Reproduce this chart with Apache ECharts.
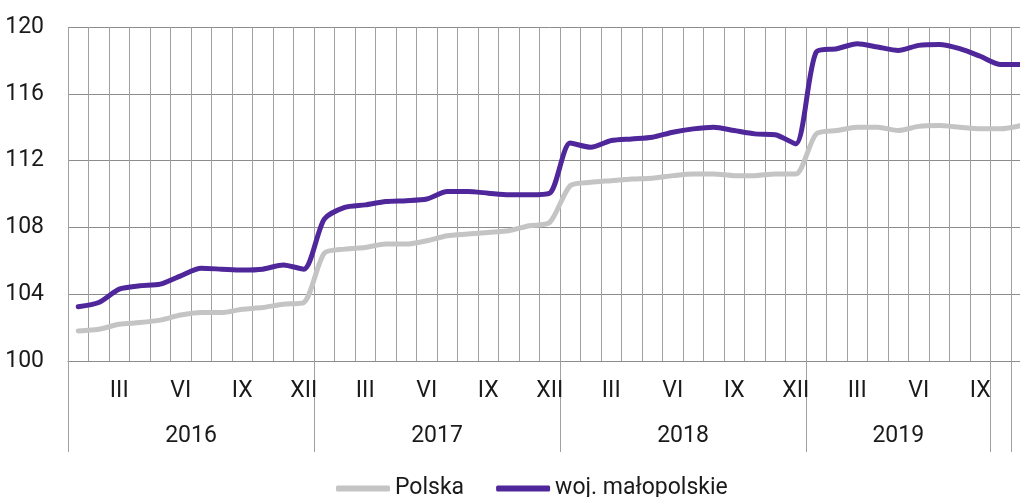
<!DOCTYPE html>
<html>
<head>
<meta charset="utf-8">
<script src="https://cdn.jsdelivr.net/npm/echarts@6/dist/echarts.min.js"></script>
<style>
  html, body { margin: 0; padding: 0; background: #fff; overflow: hidden; }
  /* wider than the window: the last month of the plot is cut off at the right edge */
  #chart { width: 1040px; height: 497px; }
</style>
</head>
<body>
<div id="chart"></div>
<script>
const romans = ['I', 'II', 'III', 'IV', 'V', 'VI', 'VII', 'VIII', 'IX', 'X', 'XI', 'XII'];
const years = ['2016', '2017', '2018', '2019'];
// month labels, Jan 2016 .. Nov 2019
const months = [
  ...romans, ...romans, ...romans,
  'I', 'II', 'III', 'IV', 'V', 'VI', 'VII', 'VIII', 'IX', 'X', 'XI'
];
// boundaries of the year groups on the bottom axis (category index)
const groupStarts = [0, 12, 24, 36, 45, 46];
// year label positions (centre of each group, in months)
const yearCenters = [6, 18, 30, 40.5];

const polska = [
  101.8, 101.9, 102.2, 102.3, 102.45, 102.75, 102.9, 102.9, 103.1, 103.2, 103.4, 103.5,
  106.45, 106.7, 106.8, 107.0, 107.0, 107.2, 107.5, 107.6, 107.7, 107.8, 108.1, 108.3,
  110.5, 110.7, 110.8, 110.9, 110.95, 111.1, 111.2, 111.2, 111.1, 111.1, 111.2, 111.2,
  113.6, 113.8, 114.0, 114.0, 113.8, 114.05, 114.1, 114.0, 113.9, 113.9, 114.1
];
const malopolskie = [
  103.25, 103.5, 104.3, 104.5, 104.6, 105.1, 105.55, 105.5, 105.45, 105.5, 105.75, 105.5,
  108.5, 109.2, 109.35, 109.55, 109.6, 109.7, 110.15, 110.15, 110.05, 109.95, 109.95, 110.05,
  113.05, 112.8, 113.2, 113.3, 113.4, 113.7, 113.9, 114.0, 113.8, 113.6, 113.55, 113.0,
  118.5, 118.7, 119.0, 118.8, 118.6, 118.9, 118.95, 118.7, 118.25, 117.75, 117.75
];

const FONT = 'Roboto, "Noto Sans", sans-serif';
const chart = echarts.init(document.getElementById('chart'), null, { renderer: 'canvas' });

chart.setOption({
  animation: false,
  textStyle: { fontFamily: FONT },
  legend: {
    left: 331,
    top: 472,
    itemWidth: 54,
    itemHeight: 6,
    itemGap: 32,
    icon: 'roundRect',
    textStyle: { fontSize: 23, color: '#1a1a1a', fontFamily: FONT },
    data: ['Polska', 'woj. małopolskie']
  },
  grid: { left: 68, top: 27, height: 334, width: 963.5, containLabel: false },
  xAxis: [
    {
      type: 'category',
      data: months,
      boundaryGap: true,
      axisLine: { show: true, lineStyle: { color: '#8c8c8c', width: 1 } },
      axisTick: { show: false },
      splitLine: { show: true, interval: 0, lineStyle: { color: '#a0a0a0', width: 1 } },
      axisLabel: {
        interval: (i) => i % 3 === 2,
        margin: 19,
        fontSize: 23,
        color: '#1a1a1a'
      }
    },
    {
      type: 'category',
      data: months,
      position: 'bottom',
      boundaryGap: true,
      axisLine: { show: false },
      axisLabel: { show: false },
      axisTick: {
        show: true,
        interval: (i) => groupStarts.includes(i),
        length: 91,
        lineStyle: { color: '#a0a0a0', width: 1 }
      }
    },
    {
      type: 'value',
      position: 'bottom',
      min: 0,
      max: months.length,
      interval: 0.5,
      axisLine: { show: false },
      axisTick: { show: false },
      splitLine: { show: false },
      axisLabel: {
        margin: 64,
        fontSize: 23,
        color: '#1a1a1a',
        showMinLabel: true,
        showMaxLabel: false,
        formatter: (v) => {
          const k = yearCenters.indexOf(v);
          return k >= 0 ? years[k] : '';
        }
      }
    }
  ],
  yAxis: {
    type: 'value',
    min: 100,
    max: 120,
    interval: 4,
    axisLine: { show: false },
    axisTick: { show: false },
    splitLine: { show: true, lineStyle: { color: '#8c8c8c', width: 1 } },
    axisLabel: { margin: 24, fontSize: 23, color: '#1a1a1a' }
  },
  series: [
    {
      name: 'Polska',
      type: 'line',
      xAxisIndex: 0,
      data: polska,
      smooth: 0.25,
      symbol: 'none',
      lineStyle: { color: '#c4c4c4', width: 5, cap: 'round', join: 'round' },
      itemStyle: { color: '#c4c4c4' }
    },
    {
      name: 'woj. małopolskie',
      type: 'line',
      xAxisIndex: 0,
      data: malopolskie,
      smooth: 0.25,
      symbol: 'none',
      lineStyle: { color: '#4f279b', width: 5, cap: 'round', join: 'round' },
      itemStyle: { color: '#4f279b' }
    }
  ]
});
</script>
</body>
</html>
